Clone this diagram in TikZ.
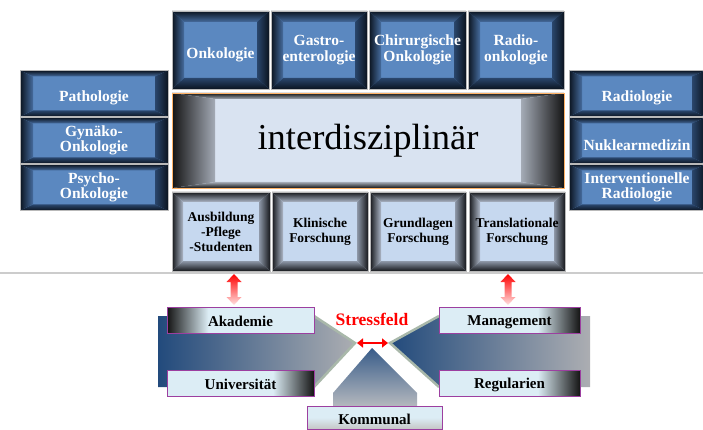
\documentclass[tikz,border=0pt]{standalone}
\usepackage{fontspec}
\setmainfont{Liberation Serif}
\usetikzlibrary{arrows.meta}

\definecolor{bluedark}{HTML}{0B1420}
\definecolor{bluelite}{HTML}{466C9E}
\definecolor{bluelow}{HTML}{2A466C}
\definecolor{blueface}{HTML}{5B88C0}
\definecolor{greydark}{HTML}{16181C}
\definecolor{greylite}{HTML}{AEB8C8}
\definecolor{greylow}{HTML}{8E98A8}
\definecolor{greyface}{HTML}{C6D8EF}
\definecolor{midface}{HTML}{D9E3F1}
\definecolor{midlite}{HTML}{A4ABB6}
\definecolor{labelface}{HTML}{DCEDF5}
\definecolor{labelline}{HTML}{9C3FA0}
\definecolor{arrowblue}{HTML}{224A7C}
\definecolor{arrowgrey}{HTML}{ACAEB2}
\definecolor{arrowedge}{HTML}{A9B8AA}

% Verlauf der Beschriftungsfelder (Breite 147 bzw. 141)
\pgfdeclarehorizontalshading{labdarkleft}{100bp}{color(0bp)=(black!92); color(25bp)=(black!92);
  color(39bp)=(labelface); color(100bp)=(labelface)}
\pgfdeclarehorizontalshading{labdarkright}{100bp}{color(0bp)=(labelface); color(61bp)=(labelface);
  color(75bp)=(black!92); color(100bp)=(black!92)}
\pgfdeclarehorizontalshading{labdarkrightb}{100bp}{color(0bp)=(labelface); color(60bp)=(labelface);
  color(75bp)=(black!92); color(100bp)=(black!92)}

\tikzset{
  bev x/.store in=\bevx, bev y/.store in=\bevy,
  bev dark/.store in=\bevdark, bev lite/.store in=\bevlite,
  bev low/.store in=\bevlow, bev face/.store in=\bevface,
  bevel/.style={path picture={
    \path (path picture bounding box.north west) coordinate (bNW)
          (path picture bounding box.north east) coordinate (bNE)
          (path picture bounding box.south west) coordinate (bSW)
          (path picture bounding box.south east) coordinate (bSE);
    \fill[\bevface] (bNW) rectangle (bSE);
    \shade[top color=\bevdark, bottom color=\bevlite] (bNW) -- (bNE)
      -- ([xshift=-\bevx,yshift=-\bevy]bNE) -- ([xshift=\bevx,yshift=-\bevy]bNW) -- cycle;
    \shade[top color=\bevlow, bottom color=\bevdark] (bSW) -- (bSE)
      -- ([xshift=-\bevx,yshift=\bevy]bSE) -- ([xshift=\bevx,yshift=\bevy]bSW) -- cycle;
    \shade[left color=\bevdark, right color=\bevlite] (bNW) -- (bSW)
      -- ([xshift=\bevx,yshift=\bevy]bSW) -- ([xshift=\bevx,yshift=-\bevy]bNW) -- cycle;
    \shade[left color=\bevlow, right color=\bevdark] (bNE) -- (bSE)
      -- ([xshift=-\bevx,yshift=\bevy]bSE) -- ([xshift=-\bevx,yshift=-\bevy]bNE) -- cycle;
  }},
  bluebox/.style={bevel, bev x=12pt, bev y=11pt, bev dark=bluedark, bev lite=bluelite,
    bev low=bluelow, bev face=blueface, draw=gray!55, line width=0.8pt, inner sep=0pt,
    align=center, text=white, font=\fontsize{15.5}{15.5}\selectfont\bfseries,
    execute at begin node={\rule{0pt}{20pt}}},
  sidebox/.style={bluebox, bev x=13pt, bev y=6pt, minimum width=148pt, minimum height=46pt,
    execute at begin node={\rule{0pt}{17pt}}},
  greybox/.style={bevel, bev x=11pt, bev y=10pt, bev dark=greydark, bev lite=greylite,
    bev low=greylow, bev face=greyface, draw=gray!55, line width=0.8pt, inner sep=0pt,
    align=center, font=\fontsize{13.5}{15}\selectfont\bfseries,
    execute at begin node={\rule{0pt}{14pt}},
    minimum width=96pt, minimum height=79pt},
  labelbox/.style={draw=labelline, line width=0.8pt, fill=labelface, inner sep=0pt,
    minimum height=26pt, font=\fontsize{15}{15}\selectfont\bfseries,
    execute at begin node={\rule{0pt}{14pt}}},
  bigarrow/.style={left color=arrowblue, right color=arrowgrey},
  redarrow/.style={top color=red, bottom color=red!12},
}

\begin{document}
\begin{tikzpicture}[x=1pt,y=-1pt]
\useasboundingbox (0,0) rectangle (703,430);

% Fachdisziplinen oben
\node[bluebox, minimum width=97pt, minimum height=78pt] (onko) at (220.5,50) {Onkologie};
\node[bluebox, minimum width=96pt, minimum height=78pt] (gastro) at (319,50) {Gastro-\\enterologie};
\node[bluebox, minimum width=97pt, minimum height=78pt] (chir) at (417.5,50) {Chirurgische\\Onkologie};
\node[bluebox, minimum width=96pt, minimum height=78pt] (radonk) at (516,50) {Radio-\\onkologie};

% Mitte
\node[bevel, bev x=43pt, bev y=6pt, bev dark=black!92, bev lite=midlite, bev low=midlite,
  bev face=midface, draw=orange!60, line width=0.8pt, minimum width=392pt, minimum height=95pt,
  inner sep=0pt, font=\fontsize{36.5}{40}\selectfont] (inter) at (368,140.5) {interdisziplinär};

% links
\node[sidebox] (patho) at (94,93.5) {Pathologie};
\node[sidebox] (gyn) at (94,140.5) {Gynäko-\\Onkologie};
\node[sidebox] (psycho) at (94,187.5) {Psycho-\\Onkologie};

% rechts
\node[sidebox, minimum width=136pt] (radio) at (637,93.5) {Radiologie};
\node[sidebox, minimum width=136pt] (nukl) at (637,140.5) {Nuklearmedizin};
\node[sidebox, minimum width=136pt] (interv) at (637,187.5) {Interventionelle\\Radiologie};

% Forschung und Lehre
\node[greybox, minimum width=98pt] (ausb) at (221,231.5) {Ausbildung\\-Pflege\\-Studenten};
\node[greybox] (klin) at (320,231.5) {Klinische\\Forschung};
\node[greybox] (grund) at (418,231.5) {Grundlagen\\Forschung};
\node[greybox] (trans) at (517,231.5) {Translationale\\Forschung};

\draw[gray!40, line width=1.5pt] (0,273) -- (703,273);

% Stressfeld
\shade[bigarrow] (158,316) -- (314,316) -- (355,343) -- (314,387) -- (158,387) -- cycle;
\draw[arrowedge, line width=2.5pt] (314,316) -- (355,343) -- (314,387);
\shade[bigarrow] (590,316) -- (439,316) -- (390,343) -- (439,387) -- (590,387) -- cycle;
\draw[arrowedge, line width=2.5pt] (439,316) -- (390,343) -- (439,387);
\shade[top color=arrowblue!90, bottom color=arrowgrey!80] (372,348) -- (417,393) -- (417,410)
  -- (333,410) -- (333,393) -- cycle;

\node[labelbox, shading=labdarkleft, minimum width=147pt] (akad) at (240.5,320) {Akademie};
\node[labelbox, shading=labdarkright, minimum width=147pt] (uni) at (240.5,383) {Universität};
\node[labelbox, shading=labdarkrightb, minimum width=141pt] (manag) at (509.5,320) {Management};
\node[labelbox, shading=labdarkrightb, minimum width=141pt] (regul) at (509.5,383) {Regularien};
\node[labelbox, top color=labelface, bottom color=gray!45, middle color=labelface,
  minimum width=135pt, minimum height=23pt] (komm) at (374.5,417.5) {Kommunal};

\node[text=red, font=\fontsize{17.5}{17.5}\selectfont\bfseries] (stress) at (372,319) {Stressfeld};
\coordinate (sfL) at (357,343);
\coordinate (sfR) at (388,343);
\draw[red, line width=2.2pt, {Triangle[length=6pt,width=9pt]}-{Triangle[length=6pt,width=9pt]}] (sfL) -- (sfR);

% rote Pfeile
\coordinate (up1) at (234,274);
\coordinate (up2) at (508,274);
\shade[redarrow] (up1) -- ([shift={(7.5,8)}]up1) -- ([shift={(3.5,8)}]up1) -- ([shift={(3.5,23)}]up1)
  -- ([shift={(7.5,23)}]up1) -- ([shift={(0,31)}]up1) -- ([shift={(-7.5,23)}]up1)
  -- ([shift={(-3.5,23)}]up1) -- ([shift={(-3.5,8)}]up1) -- ([shift={(-7.5,8)}]up1) -- cycle;
\shade[redarrow] (up2) -- ([shift={(7.5,8)}]up2) -- ([shift={(3.5,8)}]up2) -- ([shift={(3.5,23)}]up2)
  -- ([shift={(7.5,23)}]up2) -- ([shift={(0,31)}]up2) -- ([shift={(-7.5,23)}]up2)
  -- ([shift={(-3.5,23)}]up2) -- ([shift={(-3.5,8)}]up2) -- ([shift={(-7.5,8)}]up2) -- cycle;
\end{tikzpicture}
\end{document}
